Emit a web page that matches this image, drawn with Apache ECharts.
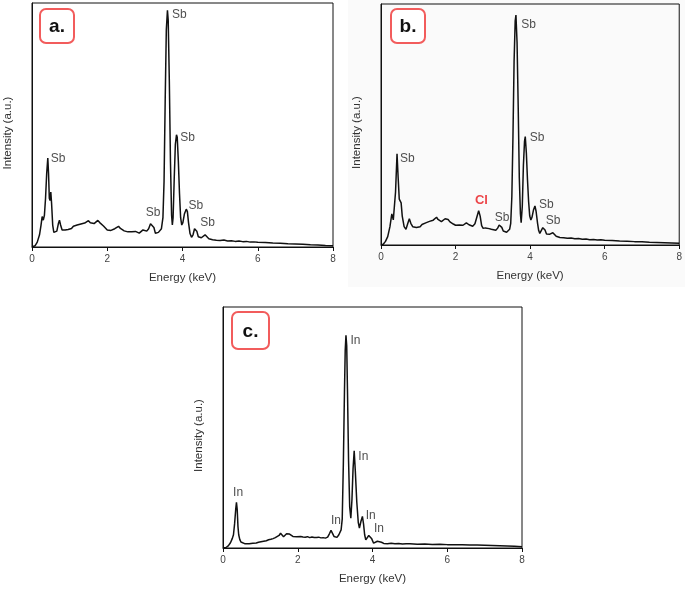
<!DOCTYPE html>
<html>
<head>
<meta charset="utf-8">
<script src="https://cdn.jsdelivr.net/npm/echarts@6.0.0/dist/echarts.min.js"></script>
<style>
  html, body { margin: 0; padding: 0; background: #fff; }
</style>
</head>
<body>
<div id="main" style="width: 685px; height: 589px;"></div>
<script>
// x ticks
const xTicks = [0, 2, 4, 6, 8]

// panel a: Sb spectrum (intensity as % of plot height)
const energyA = [0.00,0.08,0.14,0.20,0.24,0.27,0.30,0.33,0.36,0.39,0.42,0.44,0.46,0.48,0.50,0.52,0.55,0.58,0.62,0.66,0.70,0.73,0.76,0.80,0.84,0.88,0.92,0.96,1.00,1.05,1.10,1.15,1.20,1.25,1.30,1.35,1.40,1.45,1.50,1.55,1.60,1.65,1.70,1.75,1.80,1.85,1.90,1.95,2.00,2.05,2.10,2.15,2.20,2.25,2.30,2.35,2.40,2.45,2.50,2.55,2.60,2.65,2.70,2.75,2.80,2.85,2.90,2.95,3.00,3.05,3.10,3.15,3.20,3.24,3.28,3.32,3.36,3.40,3.44,3.48,3.51,3.54,3.57,3.60,3.62,3.65,3.68,3.71,3.73,3.75,3.78,3.81,3.84,3.86,3.89,3.92,3.95,3.98,4.01,4.05,4.10,4.13,4.16,4.20,4.24,4.28,4.32,4.35,4.38,4.42,4.46,4.50,4.55,4.60,4.65,4.70,4.75,4.80,4.90,5.00,5.10,5.20,5.30,5.40,5.50,5.60,5.70,5.80,5.90,6.00,6.20,6.40,6.60,6.80,7.00,7.20,7.40,7.60,7.80,8.00]
const intensityA = [0,0.5,2,5,9,12.5,11,13,20,30,36.5,30,20,19,22.5,18,9,6,5.5,6.5,9.5,11,9,7,6.5,7,7.5,7.2,8,7.6,8.5,8.2,9,8.7,9.4,9,9.8,10.2,10.8,9.9,10.2,9.6,10.4,10.9,10,9.2,8.6,7.8,7,7.4,6.8,7.3,7.5,8.2,8.5,7.6,7.2,6.6,7,6.2,6.8,6.3,5.9,6.4,6,5.7,6.3,7,7.4,6.5,7.5,9.5,10.2,8,5.6,5.4,6,6.2,7.5,12,27,60,89,97,93,68,35,13,9,12,28,42,46,45,35,22,12,9,10,13.5,15.5,14.5,10,5.5,4,5,7.5,8.2,6.5,4.2,3.5,3.8,4.6,5,4.3,3.4,3.1,3,2.8,2.7,2.9,2.5,2.6,2.3,2.5,2.2,2.3,2.0,2.1,1.9,1.8,1.6,1.5,1.3,1.2,1.1,0.9,0.8,0.6,0.5]
const labelXA = [3.72, 3.94, 0.50, 3.02, 4.16, 4.47]
const labelYA = [95.2, 44.7, 36, 13.9, 16.9, 9.8]
const labelTextA = ['Sb', 'Sb', 'Sb', 'Sb', 'Sb', 'Sb']

// panel b: Sb spectrum with Cl
const energyB = [0.00,0.06,0.12,0.18,0.24,0.29,0.33,0.36,0.39,0.43,0.46,0.49,0.52,0.54,0.57,0.62,0.67,0.72,0.76,0.80,0.85,0.90,0.95,1.00,1.05,1.10,1.15,1.20,1.25,1.30,1.35,1.40,1.45,1.49,1.53,1.57,1.62,1.67,1.72,1.76,1.80,1.85,1.89,1.94,2.00,2.05,2.10,2.15,2.20,2.25,2.29,2.32,2.36,2.41,2.46,2.52,2.57,2.62,2.66,2.70,2.74,2.80,2.85,2.90,2.96,3.02,3.08,3.13,3.17,3.20,3.24,3.28,3.32,3.37,3.41,3.45,3.48,3.51,3.54,3.57,3.60,3.62,3.65,3.68,3.71,3.74,3.76,3.79,3.82,3.85,3.87,3.90,3.93,3.96,3.99,4.02,4.05,4.09,4.13,4.16,4.20,4.23,4.26,4.30,4.34,4.37,4.40,4.44,4.48,4.53,4.58,4.61,4.65,4.70,4.75,4.80,4.90,5.00,5.10,5.20,5.30,5.40,5.50,5.60,5.70,5.80,5.90,6.00,6.20,6.40,6.60,6.80,7.00,7.20,7.40,7.60,7.80,8.00]
const intensityB = [0,0.3,1.5,3.5,7.6,12.9,10.4,11,22,37.8,28,19,18.5,17.5,12,7.6,6.5,9,10.9,9,7.6,7.4,7.3,7.9,7.6,8.5,8.3,9.2,9,9.8,9.6,10.3,10.8,11.5,10.6,10.2,9.7,10.4,10.9,11,10.6,9.6,9.3,8.7,8.2,7.9,8.3,7.8,8.2,8.0,9.2,9.7,8.4,7.6,7.8,8.8,11.5,14.2,12,8,6.9,7.1,6.6,6.8,6.5,6.3,6.1,7,8.3,8.7,7.3,5.8,5.5,5.3,5.2,6.5,9,20,45,76,93,95.4,84,58,28,13,9.3,16,33,43,45,38,27,18,12,10.4,11.5,14.5,16.2,14,9,6,4.8,5.5,7.2,7.6,6.2,4.6,4.1,4.5,5,5.1,4.3,3.6,3.2,3.1,3.0,2.8,2.9,2.6,2.7,2.4,2.5,2.2,2.3,2.1,2.2,2.0,1.9,1.7,1.6,1.4,1.3,1.1,1.0,0.9,0.8,0.7]
const labelXB = [3.76, 3.99, 0.51, 2.52, 3.05, 4.24, 4.42]
const labelYB = [91.3, 44.7, 36, 18.3, 11.5, 16.6, 10.1]
const labelTextB = ['Sb', 'Sb', 'Sb', 'Cl', 'Sb', 'Sb', 'Sb']

// panel c: In spectrum
const energyC = [0.00,0.08,0.14,0.20,0.25,0.28,0.31,0.34,0.36,0.38,0.40,0.42,0.45,0.48,0.53,0.58,0.62,0.70,0.80,0.89,0.95,1.00,1.05,1.10,1.16,1.22,1.28,1.34,1.40,1.45,1.50,1.54,1.58,1.62,1.66,1.70,1.74,1.78,1.83,1.87,1.92,1.97,2.02,2.08,2.14,2.20,2.26,2.32,2.38,2.44,2.50,2.56,2.62,2.68,2.74,2.80,2.85,2.89,2.93,2.97,3.01,3.05,3.10,3.13,3.16,3.19,3.22,3.25,3.27,3.29,3.31,3.33,3.36,3.39,3.42,3.45,3.48,3.51,3.54,3.58,3.62,3.65,3.69,3.73,3.76,3.79,3.82,3.86,3.90,3.94,3.98,4.03,4.08,4.13,4.18,4.24,4.30,4.40,4.50,4.60,4.70,4.80,4.90,5.00,5.20,5.40,5.60,5.80,6.00,6.20,6.40,6.60,6.80,7.00,7.20,7.40,7.60,7.80,8.00]
const intensityC = [0,0.2,0.9,2.2,4,5.5,10,16,19,16,9,5.5,3.5,2.5,2.1,1.8,1.7,1.8,2.0,2.1,2.4,2.5,2.7,2.8,3.0,3.4,3.6,3.9,4.3,4.6,5.2,6.1,5.4,4.7,5.3,5.9,6.3,5.8,5.0,4.8,4.5,4.7,4.4,4.8,4.6,4.5,4.7,4.3,4.6,4.4,4.4,4.5,4.2,4.3,4.1,4.5,6,7.3,6.5,4.8,4.1,4.4,5.5,6.2,7.5,12,35,65,82,88.3,84,66,36,17,12.4,20,33,40.3,32,19,10.5,8.3,11,13.1,10,5.5,3.4,3.8,5.2,5.8,3.8,2.0,2.3,2.8,3.0,2.4,1.9,1.8,2.0,1.8,1.9,1.7,1.8,1.8,1.6,1.7,1.5,1.6,1.4,1.4,1.3,1.2,1.2,1.1,1.0,0.9,0.8,0.7,0.5]
const labelXC = [3.41, 3.62, 0.27, 2.89, 3.82, 4.04]
const labelYC = [86.2, 37.9, 22.8, 11.3, 13.5, 8.0]
const labelTextC = ['In', 'In', 'In', 'In', 'In', 'In']

const zip = (xs, ys) => xs.map((x, i) => [x, ys[i]])

const grids = [
  { left: 32, top: 3, width: 301, height: 244 },
  { left: 381, top: 4, width: 299, height: 241 },
  { left: 223, top: 307, width: 299, height: 241 }
]
const panels = [
  { x: energyA, y: intensityA, lx: labelXA, ly: labelYA, lt: labelTextA, tag: 'a.' },
  { x: energyB, y: intensityB, lx: labelXB, ly: labelYB, lt: labelTextB, tag: 'b.' },
  { x: energyC, y: intensityC, lx: labelXC, ly: labelYC, lt: labelTextC, tag: 'c.' }
]
const tagBoxes = [
  { x: 40, y: 9, w: 34, h: 34 },
  { x: 391, y: 9, w: 34, h: 34 },
  { x: 232, y: 312, w: 37, h: 37 }
]

const font = 'Liberation Sans, Arial, sans-serif'
const chart = echarts.init(document.getElementById('main'))

const option = {
  backgroundColor: '#fff',
  animation: false,
  grid: grids.map(g => ({ ...g, show: true, borderColor: '#111', borderWidth: 1, backgroundColor: 'transparent' })),
  xAxis: grids.map((g, i) => ({
    type: 'value',
    gridIndex: i,
    min: xTicks[0],
    max: xTicks[xTicks.length - 1],
    interval: 2,
    name: 'Energy (keV)',
    nameLocation: 'middle',
    nameGap: 25,
    nameTextStyle: { fontFamily: font, fontSize: 11.5, color: '#333' },
    axisLine: { show: true, lineStyle: { color: '#111', width: 1 } },
    axisTick: { show: true, inside: false, length: 4, lineStyle: { color: '#111' } },
    axisLabel: { margin: 7, fontFamily: font, fontSize: 10, color: '#444' },
    splitLine: { show: false }
  })),
  yAxis: grids.map((g, i) => ({
    type: 'value',
    gridIndex: i,
    min: 0,
    max: 100,
    name: 'Intensity (a.u.)',
    nameLocation: 'middle',
    nameGap: 18,
    nameTextStyle: { fontFamily: font, fontSize: 11.5, color: '#333', padding: [0, 16, 0, 0] },
    axisLine: { show: true, lineStyle: { color: '#111', width: 1 } },
    axisTick: { show: false },
    axisLabel: { show: false },
    splitLine: { show: false }
  })),
  series: [
    ...panels.map((p, i) => ({
      type: 'line',
      xAxisIndex: i,
      yAxisIndex: i,
      data: zip(p.x, p.y),
      showSymbol: false,
      lineStyle: { color: '#111', width: 1.5 },
      silent: true
    })),
    ...panels.map((p, i) => ({
      type: 'scatter',
      xAxisIndex: i,
      yAxisIndex: i,
      symbolSize: 0,
      silent: true,
      data: p.lx.map((x, k) => {
        const cl = p.lt[k] === 'Cl'
        return {
          value: [x, p.ly[k]],
          label: {
            show: true,
            formatter: p.lt[k],
            position: 'right',
            distance: 0,
            fontFamily: font,
            fontSize: cl ? 13 : 12,
            fontWeight: cl ? 'bold' : 'normal',
            color: cl ? '#e8161b' : '#222'
          }
        }
      })
    }))
  ],
  graphic: [
    { type: 'rect', z: -10, shape: { x: 348, y: 0, width: 337, height: 287 }, style: { fill: '#fafafa' } },
    ...tagBoxes.map((b, i) => ({
      type: 'group',
      children: [
        { type: 'rect', shape: { x: b.x, y: b.y, width: b.w, height: b.h, r: 6 }, style: { fill: '#fff', stroke: '#f25c5c', lineWidth: 2 } },
        { type: 'text', x: b.x + b.w / 2, y: b.y + b.h / 2 + 1, style: { text: panels[i].tag, font: 'bold 19px ' + font, fill: '#111', textAlign: 'center', textVerticalAlign: 'middle' } }
      ]
    }))
  ]
}

chart.setOption(option)
</script>
</body>
</html>
